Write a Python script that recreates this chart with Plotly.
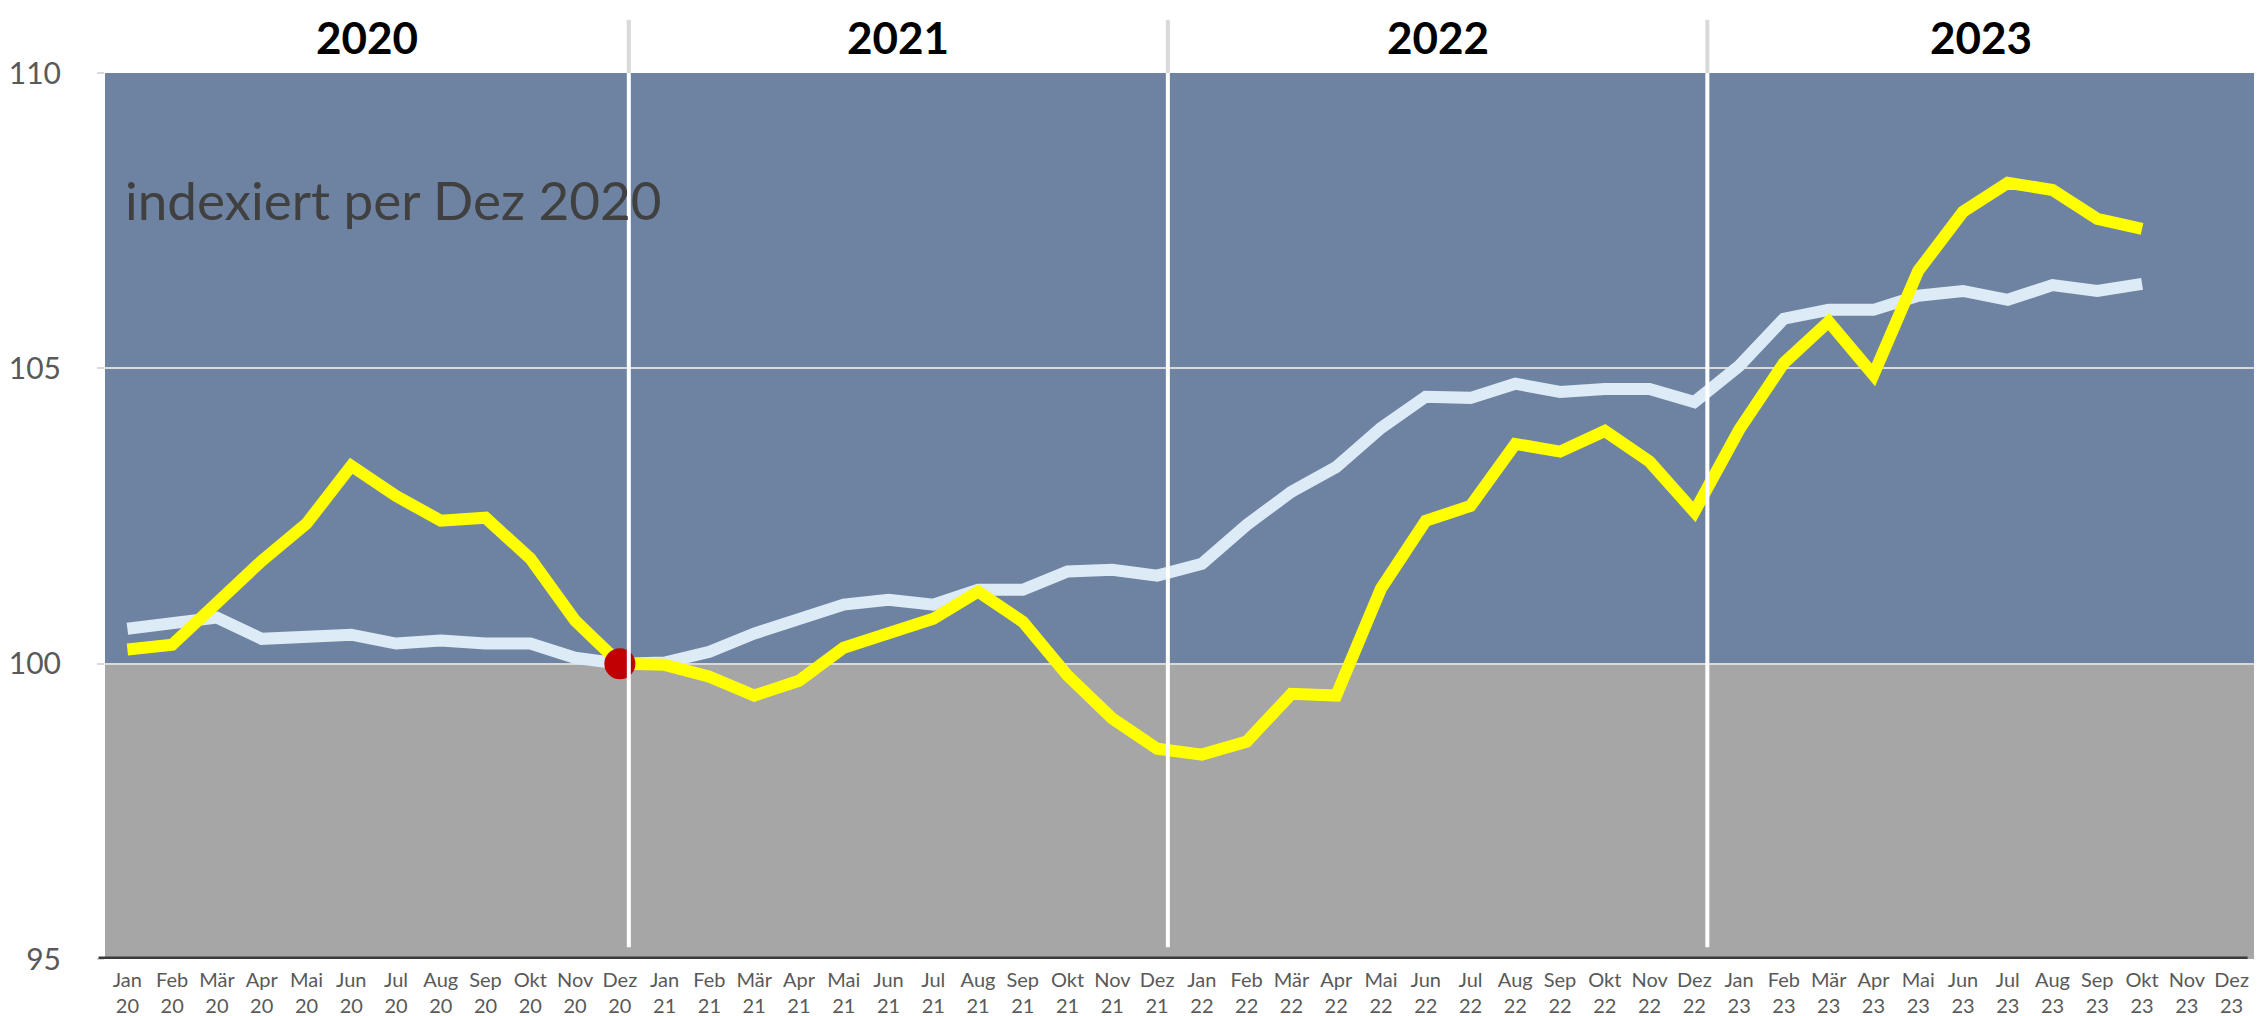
import plotly.graph_objects as go

months = ["Jan", "Feb", "Mär", "Apr", "Mai", "Jun", "Jul", "Aug", "Sep", "Okt", "Nov", "Dez"]
years = ["20", "21", "22", "23"]
categories = [f"{m}<br>{y}" for y in years for m in months]
year_labels = ["2020", "2021", "2022", "2023"]

yellow_values = [
    100.24, 100.32, 101.03, 101.74, 102.37, 103.35, 102.84, 102.42, 102.47, 101.78, 100.73, 100.00,
    99.98, 99.78, 99.46, 99.71, 100.27, 100.49, 100.76, 101.22, 100.71, 99.80, 99.07, 98.56,
    98.46, 98.68, 99.49, 99.46, 101.27, 102.42, 102.67, 103.72, 103.59, 103.94, 103.42, 102.57,
    103.96, 105.09, 105.79, 104.89, 106.65, 107.65, 108.14, 108.02, 107.53, 107.36,
]
blue_values = [
    100.59, 100.71, 100.78, 100.42, 100.46, 100.49, 100.34, 100.39, 100.34, 100.34, 100.10, 100.00,
    100.02, 100.20, 100.51, 100.73, 101.00, 101.08, 101.00, 101.25, 101.25, 101.56, 101.59, 101.49,
    101.69, 102.35, 102.91, 103.33, 103.99, 104.52, 104.50, 104.74, 104.60, 104.65, 104.65, 104.43,
    105.04, 105.84, 105.99, 105.99, 106.23, 106.31, 106.16, 106.41, 106.31, 106.43,
]
marker_category = "Dez<br>20"
marker_value = 100.0

y_ticks = [95, 100, 105, 110]
y_min, y_mid, y_max = 95, 100, 110
separators = [11.2, 23.24, 35.29]
year_centers = [5.35, 17.22, 29.27, 41.4]

fig = go.Figure()

fig.add_trace(go.Scatter(
    x=categories[:len(blue_values)], y=blue_values, mode="lines",
    line=dict(color="#ddebf7", width=12), showlegend=False, hoverinfo="skip",
))
fig.add_trace(go.Scatter(
    x=categories[:len(yellow_values)], y=yellow_values, mode="lines",
    line=dict(color="#ffff00", width=12), showlegend=False, hoverinfo="skip",
))
fig.add_trace(go.Scatter(
    x=[marker_category], y=[marker_value], mode="markers",
    marker=dict(color="#c00000", size=31, line=dict(width=0)),
    showlegend=False, hoverinfo="skip",
))

shapes = [
    dict(type="rect", xref="paper", yref="y", x0=0, x1=1, y0=y_mid, y1=y_max,
         fillcolor="#6e83a2", line=dict(width=0), layer="below"),
    dict(type="rect", xref="paper", yref="y", x0=0, x1=1, y0=y_min, y1=y_mid,
         fillcolor="#a6a6a6", line=dict(width=0), layer="below"),
]
for s in separators:
    shapes.append(dict(type="line", xref="x", yref="y", x0=s, x1=s, y0=95.2, y1=y_max,
                       line=dict(color="#ffffff", width=4), layer="above"))
    shapes.append(dict(type="line", xref="x", yref="paper", x0=s, x1=s, y0=1.0, y1=1.06,
                       line=dict(color="#d9d9d9", width=4), layer="above"))
shapes.append(dict(type="line", xref="paper", yref="y", x0=-0.003, x1=0.997, y0=y_min, y1=y_min,
                   line=dict(color="#3a3a3a", width=5), layer="above"))
fig.update_layout(shapes=shapes)

annotations = []
for lbl, c in zip(year_labels, year_centers):
    annotations.append(dict(x=c, y=1.041, xref="x", yref="paper", text=f"<b>{lbl}</b>",
                            showarrow=False, xanchor="center", yanchor="middle",
                            font=dict(family="Lato", size=44, color="#000000")))
annotations.append(dict(x=0.0085, y=107.85, xref="paper", yref="y", text="indexiert per Dez 2020",
                        showarrow=False, xanchor="left", yanchor="middle",
                        font=dict(family="Lato", size=53, color="#404040")))
fig.update_layout(annotations=annotations)

fig.update_layout(
    width=2262, height=1016,
    margin=dict(l=97, r=16, t=65, b=65, autoexpand=False),
    paper_bgcolor="#ffffff", plot_bgcolor="#ffffff",
    font=dict(family="Lato", color="#595959"),
    xaxis=dict(
        type="category", categoryorder="array", categoryarray=categories,
        tickvals=categories, ticktext=categories,
        range=[-0.5, len(categories) - 0.5],
        showgrid=False, zeroline=False, showline=False, ticks="",
        tickfont=dict(family="Lato", size=20, color="#595959"),
        ticklabelstandoff=7, automargin=False,
    ),
    yaxis=dict(
        range=[y_min, y_max], tickvals=y_ticks,
        showgrid=True, gridcolor="#d9d9d9", gridwidth=1.5,
        zeroline=False, showline=False,
        ticks="outside", ticklen=7, tickcolor="#d9d9d9", tickwidth=1.5,
        tickfont=dict(family="Lato", size=30, color="#595959"),
        ticklabelstandoff=30, automargin=False,
    ),
)

fig.write_html("out.html")
